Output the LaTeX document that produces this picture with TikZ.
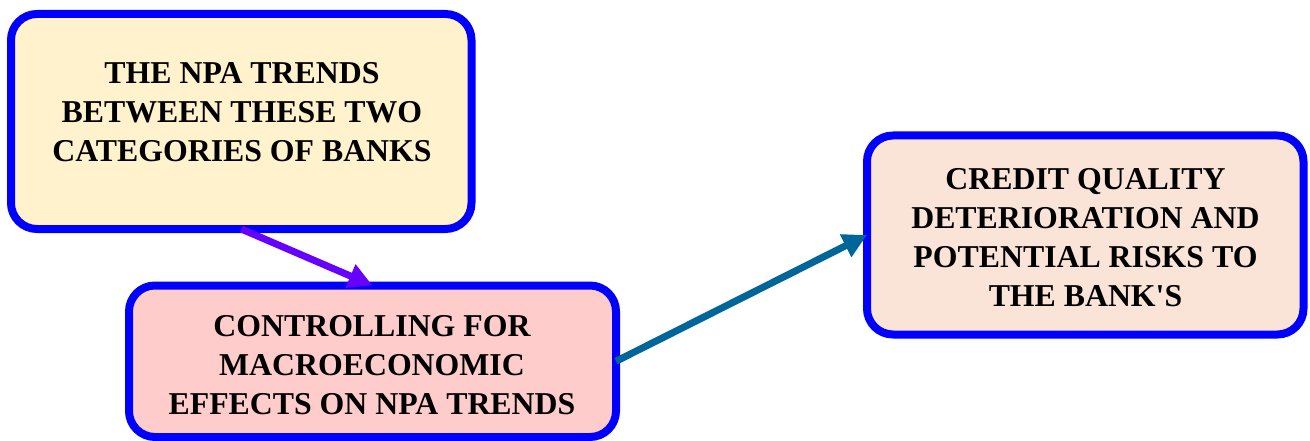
\documentclass[tikz,border=0pt]{standalone}
\usepackage{fontspec}
\setmainfont{Liberation Serif}[Ligatures=TeXOff]
\usetikzlibrary{arrows.meta}
\definecolor{boxblue}{HTML}{0000FF}
\definecolor{fillA}{HTML}{FFF2CC}
\definecolor{fillB}{HTML}{FFCCCC}
\definecolor{fillC}{HTML}{FAE4D7}
\definecolor{arrA}{HTML}{6600FF}
\definecolor{arrB}{HTML}{006699}
\tikzset{
  box/.style={draw=boxblue, line width=8pt, rounded corners=26pt, inner sep=0pt, outer sep=0pt},
  txt/.style={align=center, font=\fontsize{31.8}{39}\selectfont\bfseries, inner sep=0pt},
  conn/.style={line width=7pt, -{Triangle[length=24pt,width=24pt]}}
}
\begin{document}
\begin{tikzpicture}[x=1pt,y=-1pt]
\useasboundingbox (0,0) rectangle (1310,441);
\node[box, fill=fillA, minimum width=460.5pt, minimum height=215pt] (b1) at (241.25,121.5) {};
\node[box, fill=fillB, minimum width=487pt, minimum height=151.5pt] (b2) at (372.5,361.25) {};
\node[box, fill=fillC, minimum width=436.5pt, minimum height=199pt] (b3) at (1085.25,235) {};
\node[txt] (t1) at (242,111.7) {THE NPA TRENDS\\BETWEEN THESE TWO\\CATEGORIES OF BANKS};
\node[txt] (t2) at (372,365.3) {CONTROLLING FOR\\MACROECONOMIC\\EFFECTS ON NPA TRENDS};
\node[txt] (t3) at (1085.5,237.5) {CREDIT QUALITY\\DETERIORATION AND\\POTENTIAL RISKS TO\\THE BANK'S};
\draw[conn, draw=arrA, fill=arrA] (b1.south) -- (b2.north);
\draw[conn, draw=arrB, fill=arrB] (b2.east) -- (b3.west);
\end{tikzpicture}
\end{document}
